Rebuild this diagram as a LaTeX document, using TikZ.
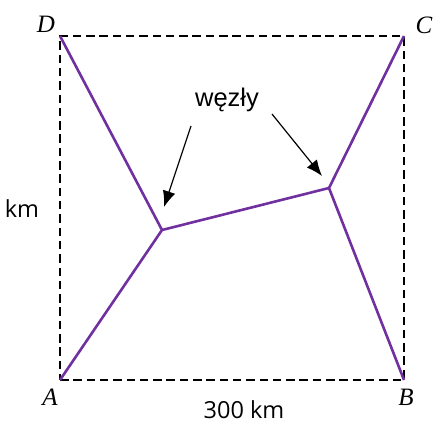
\documentclass[tikz,border=0pt]{standalone}
\usepackage{fontspec}
\setmainfont{Liberation Serif}
\newfontfamily\arialf{Liberation Sans}
\newfontfamily\segf{Open Sans}
\usetikzlibrary{arrows.meta}
\definecolor{edgepurple}{HTML}{7030A0}
\tikzset{
  edge/.style={edgepurple, line width=2.6pt},
  frame/.style={black, line width=2.6pt, dash pattern=on 8.5pt off 4.8pt},
  corner/.style={font=\fontsize{25}{28}\selectfont\itshape, inner sep=0pt},
  pointer/.style={black, line width=1.2pt, -{Latex[length=16pt,width=13pt]}},
  dimlabel/.style={font=\segf\fontsize{23.5}{26}\selectfont, inner sep=0pt},
}
\begin{document}
\begin{tikzpicture}[x=1pt,y=-1pt]
\useasboundingbox (0,0) rectangle (442,428);
\coordinate (A) at (60,380);
\coordinate (B) at (404,380);
\coordinate (C) at (404,36);
\coordinate (D) at (60,36);
\coordinate (L) at (162,230);
\coordinate (R) at (329,188);
\draw[frame] (A) -- (B) -- (C) -- (D) -- cycle;
\draw[edge] (D) -- (L) -- (A);
\draw[edge] (L) -- (R);
\draw[edge] (C) -- (R) -- (B);
\node[corner] (lD) at (46,24) {D};
\node[corner] (lC) at (424,25) {C};
\node[corner] (lA) at (50,397) {A};
\node[corner] (lB) at (406,397) {B};
\node[font=\arialf\fontsize{25.5}{28}\selectfont, inner sep=0pt] (w) at (227,100) {węzły};
\node[dimlabel] (km) at (22,209) {km};
\node[dimlabel] (d300) at (244,410) {300 km};
\coordinate (p1s) at (191,126);
\coordinate (p1e) at (164,207);
\coordinate (p2s) at (272,114);
\coordinate (p2e) at (322,176);
\draw[pointer] (p1s) -- (p1e);
\draw[pointer] (p2s) -- (p2e);
\end{tikzpicture}
\end{document}
